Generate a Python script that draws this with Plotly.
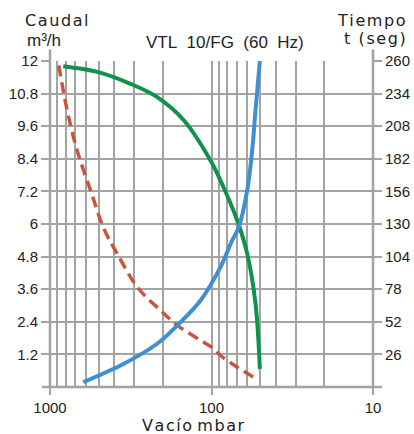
import plotly.graph_objects as go

# Data
flow_vac = [828, 510, 317, 217, 148, 101.4, 88, 69.3, 60.1, 53.4, 50.2]
flow_q = [11.81, 11.60, 11.16, 10.67, 9.81, 8.34, 7.60, 6.13, 4.91, 3.07, 0.67]

time_vac = [623, 349, 217, 163, 117, 88, 74.5, 67.8, 60.1, 56.0, 53.4, 50.2]
time_t = [3.9, 18.6, 34.5, 49.1, 69, 95.6, 116.9, 127.5, 156.8, 188.7, 220.6, 260]

red_vac = [882, 783, 679, 561, 464, 384, 288, 207, 163, 117, 96.8, 88, 69.3, 51.7]
red_q = [11.84, 10.18, 8.71, 7.24, 5.83, 4.91, 3.68, 2.82, 2.27, 1.72, 1.41, 1.16, 0.73, 0.27]

x_ticks = [1000, 100, 10]
x_ticklabels = ["1000", "100", "10"]
x_minor = [900, 800, 700, 600, 500, 400, 300, 200, 90, 80, 70, 60, 50, 40, 30, 20]
q_ticks = [1.2, 2.4, 3.6, 4.8, 6, 7.2, 8.4, 9.6, 10.8, 12]
q_labels = ["1.2", "2.4", "3.6", "4.8", "6", "7.2", "8.4", "9.6", "10.8", "12"]
t_ticks = [26, 52, 78, 104, 130, 156, 182, 208, 234, 260]
t_labels = [str(v) for v in t_ticks]

HS = "\u200a"
NB = "\u00a0"


def spaced(s):
    return HS.join(list(s))


GRID = "#a3a3a3"
NARROW = "Liberation Sans, Arial, sans-serif"
TICKFONT = dict(family=NARROW, size=15, color="#222")
TITLEFONT = dict(family="DejaVu Sans, sans-serif", size=16, color="#222")

fig = go.Figure()
fig.add_trace(go.Scatter(x=red_vac, y=red_q, mode="lines", line=dict(color="#c9553f", width=3.5, dash="11px,6px", shape="spline"), yaxis="y"))
fig.add_trace(go.Scatter(x=flow_vac, y=flow_q, mode="lines", line=dict(color="#11924a", width=4, shape="spline"), yaxis="y"))
fig.add_trace(go.Scatter(x=time_vac, y=time_t, mode="lines", line=dict(color="#3f8fd4", width=4, shape="spline"), yaxis="y2"))

fig.update_layout(
    width=414, height=434,
    margin=dict(l=49.5, r=41.3, t=61, b=47.4, autoexpand=False),
    paper_bgcolor="white", plot_bgcolor="white",
    showlegend=False,
    xaxis=dict(type="log", range=[3, 1], tickvals=x_ticks, ticktext=x_ticklabels, automargin=False,
               showgrid=True, gridcolor=GRID, gridwidth=2,
               ticks="outside", ticklen=7, tickwidth=2, tickcolor=GRID,
               minor=dict(tickvals=x_minor, showgrid=True, gridcolor=GRID, gridwidth=2, ticks=""),
               tickfont=TICKFONT, zeroline=False, showline=False),
    yaxis=dict(range=[0, 12], tickvals=q_ticks, ticktext=q_labels, automargin=False,
               showgrid=True, gridcolor=GRID, gridwidth=2,
               ticks="outside", ticklen=8, tickwidth=2, tickcolor=GRID,
               tickfont=TICKFONT, zeroline=False, showline=False),
    yaxis2=dict(range=[0, 260], tickvals=t_ticks, ticktext=t_labels, overlaying="y", side="right", automargin=False,
                showgrid=False, ticks="outside", ticklen=8, tickwidth=2, tickcolor=GRID,
                tickfont=TICKFONT, zeroline=False, showline=False),
)

# axis lines extending slightly past the plot corners
fig.add_shape(type="line", xref="paper", yref="paper", x0=-0.025, x1=1.028, y0=0, y1=0, line=dict(color=GRID, width=2.5))
fig.add_shape(type="line", xref="paper", yref="paper", x0=0, x1=0, y0=0, y1=1.035, line=dict(color=GRID, width=2.5))
fig.add_shape(type="line", xref="paper", yref="paper", x0=1, x1=1, y0=0, y1=1.035, line=dict(color=GRID, width=2.5))

# positions in pixels converted to paper coords
PL, PW, PT, PH = 49.5, 414 - 49.5 - 41.3, 61, 434 - 61 - 47.4


def px(x):
    return (x - PL) / PW


def py(y):
    return (PT + PH - y) / PH


fig.add_annotation(text=spaced("Caudal"), xref="paper", yref="paper", x=px(22), y=py(21), xanchor="left", yanchor="middle", showarrow=False, font=TITLEFONT)
fig.add_annotation(text="m³/h", xref="paper", yref="paper", x=px(24), y=py(41), xanchor="left", yanchor="middle", showarrow=False, font=dict(family=NARROW, size=17, color="#222"))
fig.add_annotation(text=spaced("Tiempo"), xref="paper", yref="paper", x=px(408), y=py(21), xanchor="right", yanchor="middle", showarrow=False, font=TITLEFONT)
fig.add_annotation(text=spaced("t" + NB + "(seg)"), xref="paper", yref="paper", x=px(408), y=py(39), xanchor="right", yanchor="middle", showarrow=False, font=TITLEFONT)
fig.add_annotation(text="VTL" + NB * 2 + "10/FG" + NB * 2 + "(60" + NB * 2 + "Hz)",
                   xref="paper", yref="paper", x=px(225), y=py(43), xanchor="center", yanchor="middle", showarrow=False, font=dict(family=NARROW, size=17, color="#222"))
fig.add_annotation(text=spaced("Vacío") + NB + spaced("mbar"), xref="paper", yref="paper", x=px(193), y=py(425), xanchor="center", yanchor="middle", showarrow=False, font=TITLEFONT)

fig.write_html("out.html")
